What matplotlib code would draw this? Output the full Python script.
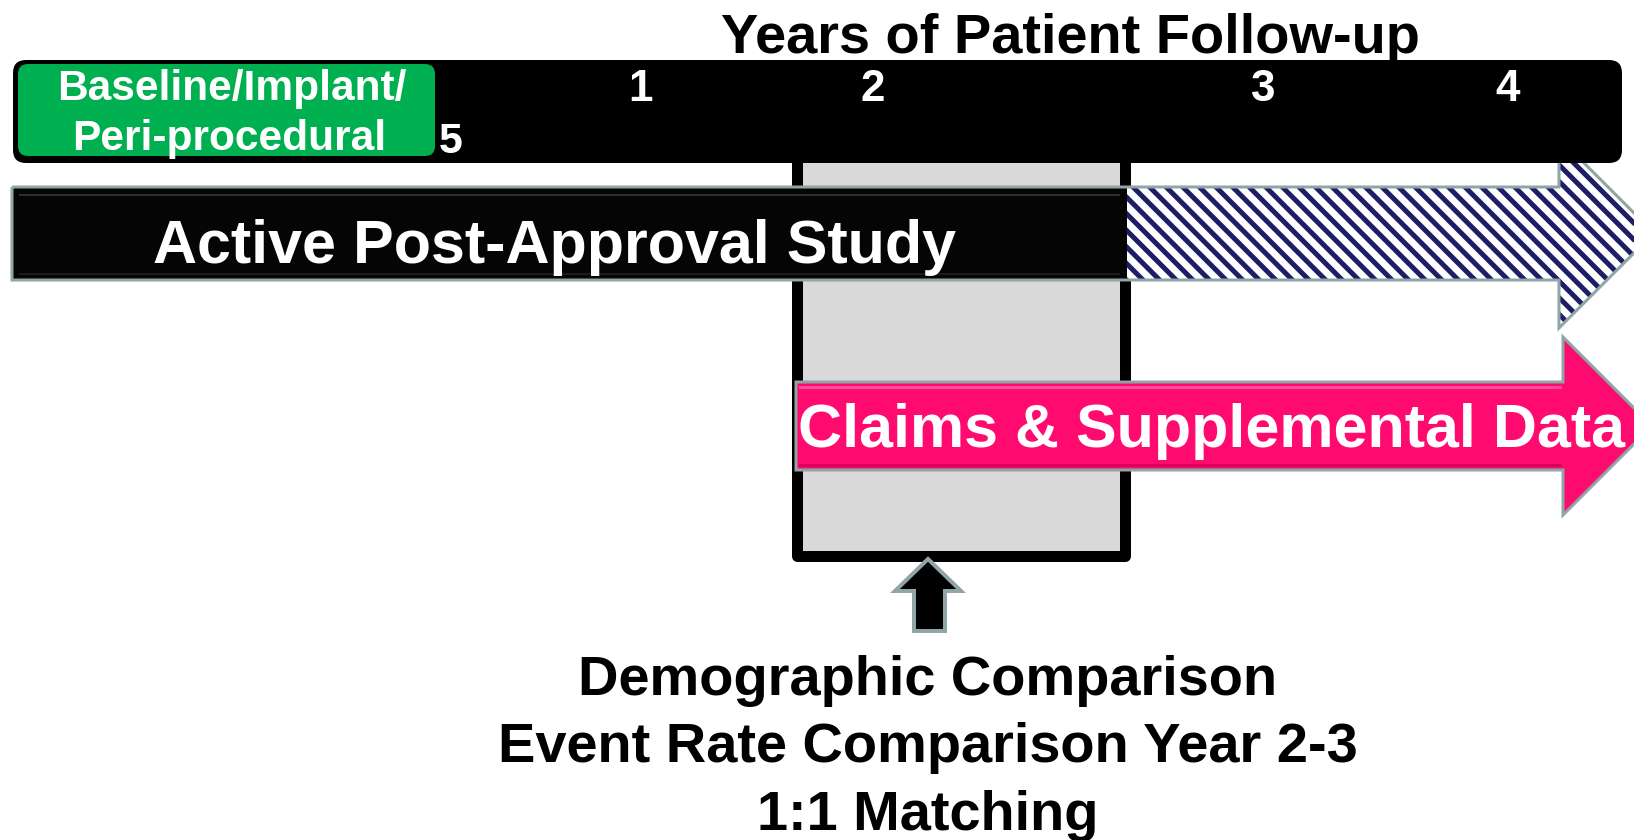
import numpy as np
import matplotlib.pyplot as plt
from matplotlib.patches import FancyBboxPatch, Polygon, Rectangle

DPI = 138
W, H = 1634, 840

plt.rcParams['font.family'] = ['Liberation Sans', 'DejaVu Sans']
plt.rcParams['font.weight'] = 'bold'

# texts of the diagram
axis_title = "Years of Patient Follow-up"
year_labels = ["1", "2", "3", "4"]
half_year_label = "5"
phase_lines = ["Baseline/Implant/", "Peri-procedural"]
study_label = "Active Post-Approval Study"
claims_label = "Claims & Supplemental Data"
comparison_lines = ["Demographic Comparison",
                    "Event Rate Comparison Year 2-3",
                    "1:1 Matching"]

# layout (pixels on the 1634x840 canvas, y going down)
year_x = [641, 873, 1263, 1508]

GREEN = '#00B050'
PINK = '#FF0A6E'
GREY_BOX = '#D9D9D9'
OUTLINE = '#8FA5A6'
HATCH = '#1E1E66'
STRIPE_STEP = 16.6   # horizontal spacing of the diagonal stripes, px


def pt(px):
    # pixel size -> points
    return px * 72 / DPI


fig = plt.figure(figsize=(W / DPI, H / DPI), dpi=DPI)
ax = fig.add_axes([0, 0, 1, 1])
ax.set_xlim(0, W)
ax.set_ylim(H, 0)
ax.axis('off')

# grey comparison window (years 2-3)
ax.add_patch(Rectangle((797.5, 140), 328, 416, facecolor=GREY_BOX, edgecolor='black',
                       linewidth=pt(11), joinstyle='round', zorder=1))

# active study arrow: striped part + black part
study_arrow = [(12, 187), (1559, 187), (1559, 138), (1654, 233), (1559, 328), (1559, 280), (12, 280)]
body = Polygon(study_arrow, closed=True, facecolor='white', edgecolor='none', zorder=2)
ax.add_patch(body)
for c in np.arange(900, 1660, STRIPE_STEP):
    ln, = ax.plot([c, c + 220], [120, 340], color=HATCH, linewidth=pt(5),
                  solid_capstyle='butt', zorder=2.05)
    ln.set_clip_path(body)
ax.add_patch(Rectangle((12, 188), 1115, 92, facecolor='#050505', edgecolor='none', zorder=2.1))
ax.plot([20, 1119], [195, 195], color='#2e2e2e', linewidth=pt(2), zorder=2.2)
ax.plot([20, 1119], [274, 274], color='#1c1c1c', linewidth=pt(2), zorder=2.2)
ax.add_patch(Polygon(study_arrow, closed=True, fill=False, edgecolor=OUTLINE,
                     linewidth=pt(3), zorder=2.3))

# top timeline bar
ax.add_patch(FancyBboxPatch((13, 60), 1609, 103, boxstyle="round,pad=0,rounding_size=13",
                            facecolor='black', edgecolor='none', zorder=3))
ax.add_patch(FancyBboxPatch((17, 63), 419, 94, boxstyle="round,pad=0,rounding_size=11",
                            facecolor=GREEN, edgecolor='black', linewidth=pt(2), zorder=3.1))

# claims arrow
claims_arrow = [(796, 382), (1563, 382), (1563, 337), (1652, 426), (1563, 515), (1563, 470), (796, 470)]
ax.add_patch(Polygon(claims_arrow, closed=True, facecolor=PINK, edgecolor=OUTLINE,
                     linewidth=pt(3), zorder=3))
ax.plot([800, 1560], [387, 387], color='#FF4D98', linewidth=pt(3), zorder=3.1)
ax.plot([800, 1560], [465, 465], color='#D8005A', linewidth=pt(3), zorder=3.1)

# small pointer arrow under the grey window
pointer = [(928, 559), (961, 591), (945, 591), (945, 631), (914, 631), (914, 591), (895, 591)]
ax.add_patch(Polygon(pointer, closed=True, facecolor='black', edgecolor=OUTLINE,
                     linewidth=pt(4), joinstyle='miter', zorder=3))

# texts
ax.text(1070, 53, axis_title, fontsize=pt(56), color='black', ha='center', va='baseline', zorder=5)
for x, lab in zip(year_x, year_labels):
    ax.text(x, 101, lab, fontsize=pt(44), color='white', ha='center', va='baseline', zorder=5)
ax.text(451, 153, half_year_label, fontsize=pt(43), color='white', ha='center', va='baseline', zorder=5)
ax.text(232, 100, phase_lines[0], fontsize=pt(42.5), color='white', ha='center', va='baseline', zorder=5)
ax.text(229, 150, phase_lines[1], fontsize=pt(42.5), color='white', ha='center', va='baseline', zorder=5)
ax.text(555, 263, study_label, fontsize=pt(61), color='white', ha='center', va='baseline', zorder=5)
ax.text(1212, 447, claims_label, fontsize=pt(61), color='white', ha='center', va='baseline', zorder=5)
for i, line in enumerate(comparison_lines):
    ax.text(928, 695 + i * 67.5, line, fontsize=pt(56), color='black',
            ha='center', va='baseline', zorder=5)

fig.savefig('out.png', dpi=DPI)
